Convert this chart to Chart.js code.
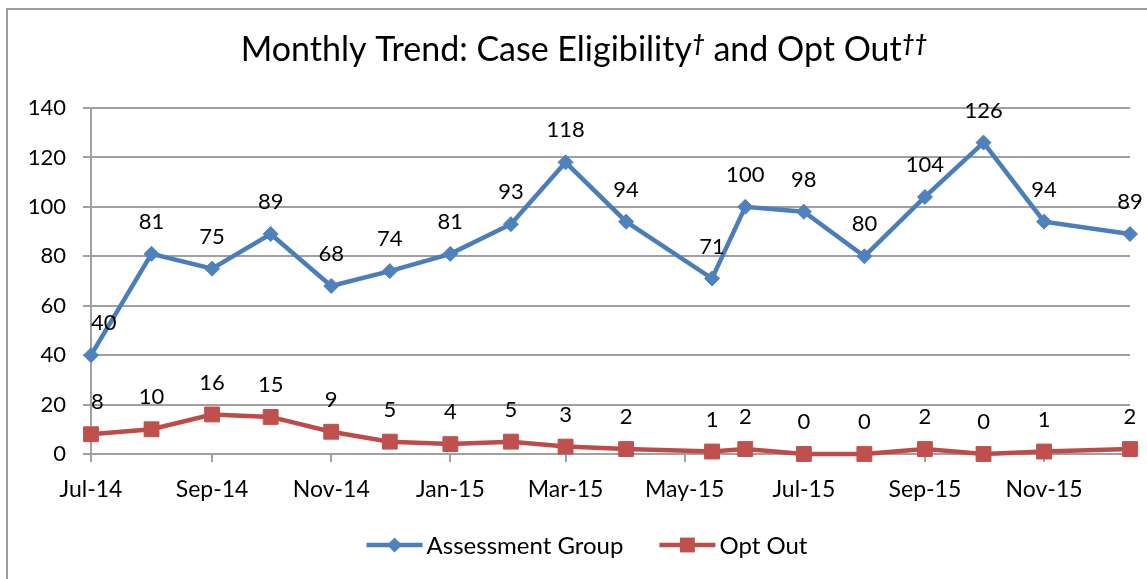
<!DOCTYPE html>
<html>
<head>
<meta charset="utf-8">
<script src="https://cdn.jsdelivr.net/npm/chart.js@4.4.1/dist/chart.umd.min.js"></script>
<style>
  html, body { margin: 0; padding: 0; background: #ffffff; }
  #wrap { position: relative; width: 1147px; height: 579px; }
</style>
</head>
<body>
<div id="wrap"><canvas id="c" width="1147" height="579"></canvas></div>
<script>
// ---- data ----
const titleMain = "Monthly Trend: Case Eligibility";
const titleMid = " and Opt Out";
const seriesNames = ["Assessment Group", "Opt Out"];
const dates = ["2014-07-01","2014-08-01","2014-09-01","2014-10-01","2014-11-01","2014-12-01",
               "2015-01-01","2015-02-01","2015-03-01","2015-04-01","2015-05-15","2015-06-01",
               "2015-07-01","2015-08-01","2015-09-01","2015-10-01","2015-11-01","2015-12-15"];
const assessmentGroup = [40,81,75,89,68,74,81,93,118,94,71,100,98,80,104,126,94,89];
const optOut = [8,10,16,15,9,5,4,5,3,2,1,2,0,0,2,0,1,2];
const tickDates = ["2014-07-01","2014-09-01","2014-11-01","2015-01-01","2015-03-01",
                   "2015-05-01","2015-07-01","2015-09-01","2015-11-01"];
const tickLabels = ["Jul-14","Sep-14","Nov-14","Jan-15","Mar-15","May-15","Jul-15","Sep-15","Nov-15"];
const yTicks = [0,20,40,60,80,100,120,140];

// ---- helpers ----
const base = Date.UTC(2014, 6, 1);
function dayOf(s) {
  const p = s.split("-").map(Number);
  return Math.round((Date.UTC(p[0], p[1]-1, p[2]) - base) / 86400000);
}
const xDays = dates.map(dayOf);
const tickDays = tickDates.map(dayOf);
const tickMap = {};
tickDays.forEach((d, i) => { tickMap[d] = tickLabels[i]; });

const BLUE = "#4A7EBB", BLUE_M = "#4F81BD";
const RED = "#BE4B48", RED_M = "#C0504D";
const GRID = "#a0a0a0";
const FONT = "Lato";

const bgPlugin = {
  id: "bg",
  beforeDraw(chart) {
    const ctx = chart.ctx;
    ctx.save();
    ctx.fillStyle = "#fff";
    ctx.fillRect(0, 0, chart.width, chart.height);
    ctx.strokeStyle = "#9c9c9c";
    ctx.lineWidth = 2;
    ctx.beginPath();
    ctx.moveTo(7, chart.height);
    ctx.lineTo(7, 9);
    ctx.lineTo(chart.width, 9);
    ctx.stroke();
    ctx.restore();
  }
};

const titlePlugin = {
  id: "customTitle",
  afterDraw(chart) {
    const ctx = chart.ctx;
    ctx.save();
    const mainFont = "34px " + FONT;
    const supFont = "italic bold 22px " + FONT;
    ctx.font = mainFont;
    const w1 = ctx.measureText(titleMain).width;
    const w3 = ctx.measureText(titleMid).width;
    ctx.font = supFont;
    const w2 = ctx.measureText("\u2020").width;
    const w4 = ctx.measureText("\u2020\u2020").width;
    const total = w1 + w2 + w3 + w4;
    const cx = 584, baseY = 61;
    let x = cx - total / 2;
    ctx.fillStyle = "#000";
    ctx.textBaseline = "alphabetic";
    ctx.textAlign = "left";
    ctx.font = mainFont; ctx.fillText(titleMain, x, baseY); x += w1;
    ctx.font = supFont; ctx.fillText("\u2020", x, baseY - 10); x += w2;
    ctx.font = mainFont; ctx.fillText(titleMid, x, baseY); x += w3;
    ctx.font = supFont; ctx.fillText("\u2020\u2020", x, baseY - 10);
    ctx.restore();
  }
};

const labelPlugin = {
  id: "dataLabels",
  afterDatasetsDraw(chart) {
    const ctx = chart.ctx;
    const area = chart.chartArea;
    ctx.save();
    ctx.font = "22px " + FONT;
    ctx.fillStyle = "#000";
    ctx.textBaseline = "middle";
    ctx.textAlign = "center";
    chart.data.datasets.forEach((ds, di) => {
      const meta = chart.getDatasetMeta(di);
      meta.data.forEach((pt, i) => {
        const txt = String(ds.data[i].y);
        const w = ctx.measureText(txt).width;
        let x = pt.x;
        if (x - w / 2 < area.left) x = area.left + w / 2;
        ctx.fillText(txt, x, pt.y - 32);
      });
    });
    ctx.restore();
  }
};

const legendPlugin = {
  id: "customLegend",
  afterDraw(chart) {
    const ctx = chart.ctx;
    ctx.save();
    ctx.font = "24px " + FONT;
    const iconW = 56, gap = 4, spacing = 36;
    const items = chart.data.datasets.map(ds => ({
      ds, tw: ctx.measureText(ds.label).width
    }));
    let total = 0;
    items.forEach((it, i) => { total += iconW + gap + it.tw + (i ? spacing : 0); });
    let x = 587 - total / 2;
    const y = 545;
    items.forEach((it, i) => {
      if (i) x += spacing;
      const ds = it.ds;
      ctx.strokeStyle = ds.borderColor;
      ctx.lineWidth = ds.borderWidth;
      ctx.beginPath();
      ctx.moveTo(x, y); ctx.lineTo(x + iconW, y);
      ctx.stroke();
      ctx.fillStyle = ds.pointBackgroundColor;
      const mx = x + iconW / 2;
      ctx.beginPath();
      if (ds.pointStyle === "rectRot") {
        const r = ds.pointRadius;
        ctx.moveTo(mx, y - r); ctx.lineTo(mx + r, y); ctx.lineTo(mx, y + r); ctx.lineTo(mx - r, y);
        ctx.closePath();
      } else {
        const s = ds.pointRadius * Math.SQRT1_2;
        ctx.rect(mx - s, y - s, 2 * s, 2 * s);
      }
      ctx.fill();
      x += iconW + gap;
      ctx.fillStyle = "#000";
      ctx.textAlign = "left";
      ctx.textBaseline = "middle";
      ctx.fillText(ds.label, x, y + 1);
      x += it.tw;
    });
    ctx.restore();
  }
};

new Chart(document.getElementById("c"), {
  type: "line",
  data: {
    datasets: [
      {
        label: seriesNames[0],
        data: xDays.map((d, i) => ({ x: d, y: assessmentGroup[i] })),
        borderColor: BLUE, borderWidth: 4.5,
        pointStyle: "rectRot", pointRadius: 7.5,
        pointBackgroundColor: BLUE_M, pointBorderColor: BLUE_M, pointBorderWidth: 1,
        tension: 0, clip: false
      },
      {
        label: seriesNames[1],
        data: xDays.map((d, i) => ({ x: d, y: optOut[i] })),
        borderColor: RED, borderWidth: 4.5,
        pointStyle: "rect", pointRadius: 10.5,
        pointBackgroundColor: RED_M, pointBorderColor: RED_M, pointBorderWidth: 1,
        tension: 0, clip: false
      }
    ]
  },
  options: {
    responsive: false,
    animation: false,
    devicePixelRatio: 1,
    layout: { padding: { left: 0, right: 17, top: 108, bottom: 65 } },
    plugins: {
      legend: { display: false },
      title: { display: false },
      tooltip: { enabled: false }
    },
    scales: {
      x: {
        type: "linear",
        min: 0,
        max: xDays[xDays.length - 1],
        afterBuildTicks(scale) { scale.ticks = tickDays.map(v => ({ value: v })); },
        afterFit(scale) { scale.height = 60; },
        ticks: {
          autoSkip: false, maxRotation: 0, minRotation: 0,
          padding: 14,
          color: "#000",
          font: { family: FONT, size: 23 },
          callback: (v) => tickMap[v] || ""
        },
        grid: { display: true, drawOnChartArea: false, drawTicks: true, tickLength: 8, color: GRID, lineWidth: 2 },
        border: { display: true, color: GRID, width: 2 }
      },
      y: {
        min: 0, max: 140,
        afterBuildTicks(scale) { scale.ticks = yTicks.map(v => ({ value: v })); },
        afterFit(scale) { scale.width = 91; },
        ticks: {
          padding: 17,
          color: "#000",
          font: { family: FONT, size: 22 }
        },
        grid: { color: GRID, lineWidth: 2, tickLength: 8, drawTicks: true },
        border: { display: true, color: GRID, width: 2 }
      }
    }
  },
  plugins: [bgPlugin, labelPlugin, titlePlugin, legendPlugin]
});
</script>
</body>
</html>
